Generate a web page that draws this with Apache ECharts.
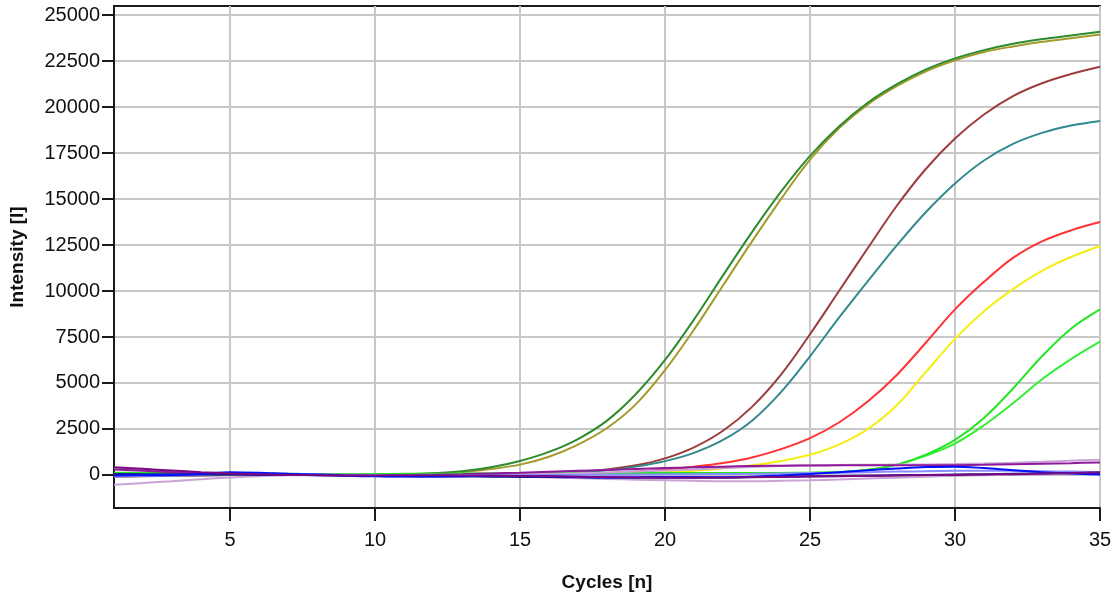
<!DOCTYPE html>
<html>
<head>
<meta charset="utf-8">
<title>Amplification curves</title>
<script src="https://cdn.jsdelivr.net/npm/echarts@6/dist/echarts.min.js"></script>
<style>
  html, body { margin: 0; padding: 0; background: #fff; }
  #chart { width: 1116px; height: 604px; }
</style>
</head>
<body>
<div id="chart"></div>
<script>
// cycles 1..35
const cycles = [];
for (let c = 1; c <= 35; c++) cycles.push(c);

const xTicks = [5, 10, 15, 20, 25, 30, 35];
const yTicks = [0, 2500, 5000, 7500, 10000, 12500, 15000, 17500, 20000, 22500, 25000];

// amplification curves
const darkGreen = [100, 80, 60, 40, 20, 10, 0, 0, 10, 20, 40, 90, 200, 420, 760, 1250, 1950, 2950, 4400, 6250, 8450, 10850, 13200, 15400, 17350, 18950, 20250, 21250, 22050, 22650, 23100, 23450, 23700, 23900, 24100];
const olive = [60, 40, 30, 20, 10, 0, 0, 0, 10, 20, 30, 70, 150, 320, 560, 990, 1650, 2550, 3850, 5700, 7900, 10300, 12700, 15000, 17150, 18850, 20150, 21150, 21950, 22550, 23000, 23300, 23550, 23750, 23950];
const brown = [-100, -80, -50, -30, 0, 0, 0, 0, 0, 0, 0, 10, 20, 40, 70, 110, 180, 300, 520, 900, 1500, 2400, 3700, 5450, 7650, 10000, 12350, 14650, 16650, 18300, 19600, 20600, 21300, 21800, 22200];
const teal = [-50, -40, -30, -20, -10, 0, 0, 0, 0, 0, 0, 0, 10, 20, 30, 60, 130, 250, 450, 750, 1200, 1900, 2950, 4500, 6450, 8550, 10550, 12500, 14300, 15850, 17100, 18000, 18600, 19000, 19250];
const red = [0, 0, 0, 0, 0, 0, 0, 0, 0, 0, 0, 0, 0, 10, 20, 30, 60, 100, 180, 300, 450, 650, 950, 1400, 2000, 2850, 4000, 5450, 7200, 9000, 10500, 11800, 12700, 13300, 13750];
const yellow = [0, 0, 0, 0, 0, 0, 0, 0, 0, 0, 0, 0, 0, 0, 10, 20, 40, 60, 100, 150, 230, 350, 520, 760, 1100, 1650, 2500, 3800, 5600, 7400, 8900, 10100, 11100, 11850, 12450];
const limeA = [120, 110, 100, 90, 80, 70, 60, 50, 50, 50, 60, 60, 70, 70, 80, 80, 90, 90, 100, 100, 100, 100, 110, 110, 120, 150, 280, 560, 1100, 1900, 3100, 4700, 6450, 7950, 9000];
const limeB = [110, 100, 90, 80, 70, 60, 50, 50, 40, 40, 50, 50, 60, 60, 70, 70, 80, 80, 90, 90, 90, 90, 100, 100, 110, 150, 280, 560, 1050, 1700, 2700, 3900, 5200, 6300, 7250];

// baseline samples
const purpleA = [420, 330, 240, 150, 80, 30, 0, -20, -30, -30, -20, -20, -30, -40, -60, -80, -100, -120, -140, -150, -160, -150, -130, -110, -90, -70, -50, -30, -10, 0, 20, 40, 70, 100, 140];
const purpleB = [300, 220, 150, 90, 40, 10, 0, 0, 0, 0, 0, 10, 40, 80, 120, 170, 220, 270, 320, 370, 410, 450, 480, 500, 510, 520, 520, 520, 520, 530, 550, 580, 610, 640, 680];
const lavenderA = [350, 280, 200, 120, 60, 20, 0, 0, 0, 0, 0, 0, 10, 20, 40, 60, 90, 130, 180, 240, 300, 370, 430, 480, 520, 540, 550, 560, 570, 590, 620, 660, 710, 770, 830];
const lavenderB = [-530, -440, -340, -230, -140, -70, -20, 0, 10, 0, -10, -20, -40, -70, -100, -140, -180, -220, -260, -290, -320, -340, -340, -320, -290, -250, -200, -150, -100, -60, -20, 0, 20, 40, 60];
const blue = [-30, -20, 0, 50, 150, 120, 60, 20, -40, -80, -90, -90, -70, -50, -60, -80, -110, -140, -130, -110, -120, -130, -100, -30, 50, 150, 250, 350, 430, 450, 370, 250, 150, 80, 20];
const navy = [50, 40, 30, 20, 10, 0, 0, -20, -40, -60, -80, -90, -90, -100, -110, -120, -130, -140, -150, -150, -150, -140, -120, -100, -80, -60, -40, -20, 0, 20, 40, 60, 80, 100, 120];
const lightBlue = [-100, -60, -30, 0, 40, 80, 60, 30, 0, 0, 0, -10, -20, -30, -20, -10, 0, 10, 20, 30, 40, 50, 60, 80, 100, 120, 150, 180, 200, 220, 230, 220, 200, 180, 150];

const FONT = "'Liberation Sans', Arial, sans-serif";

function line(name, values, color) {
  return {
    name: name,
    type: "line",
    data: values.map((v, i) => [cycles[i], v]),
    smooth: 0.35,
    showSymbol: false,
    lineStyle: { color: color, width: 2 },
    itemStyle: { color: color },
    animation: false
  };
}

const chart = echarts.init(document.getElementById("chart"));

const option = {
  backgroundColor: "#fff",
  grid: {
    left: 114,
    right: 16,
    top: 6,
    bottom: 96,
    show: true,
    borderColor: "#1a1a1a",
    borderWidth: 2,
    outerBoundsMode: "none"
  },
  xAxis: {
    type: "value",
    min: 1,
    max: 35,
    name: "Cycles [n]",
    nameLocation: "middle",
    nameGap: 65,
    nameTextStyle: { fontFamily: FONT, fontSize: 19, fontWeight: "bold", color: "#111" },
    axisLine: { onZero: false, lineStyle: { color: "#1a1a1a", width: 2 } },
    axisTick: { customValues: xTicks, length: 13, lineStyle: { color: "#1a1a1a", width: 2 } },
    axisLabel: {
      customValues: xTicks, margin: 22, fontFamily: FONT, fontSize: 20, color: "#111",
      formatter: v => String(v)
    },
    splitLine: { show: true, lineStyle: { color: "#c8c8c8", width: 2 } }
  },
  yAxis: {
    type: "value",
    min: -1800,
    max: 25500,
    name: "Intensity [I]",
    nameLocation: "middle",
    nameRotate: 90,
    nameGap: 87,
    nameTextStyle: { fontFamily: FONT, fontSize: 19, fontWeight: "bold", color: "#111" },
    axisLine: { lineStyle: { color: "#1a1a1a", width: 2 } },
    axisTick: { customValues: yTicks, length: 12, lineStyle: { color: "#1a1a1a", width: 2 } },
    axisLabel: {
      customValues: yTicks, margin: 14, fontFamily: FONT, fontSize: 20, color: "#111",
      formatter: v => String(v)
    },
    splitLine: { show: true, lineStyle: { color: "#c8c8c8", width: 2 } }
  },
  series: [
    line("olive", olive, "#a39a2c"),
    line("darkGreen", darkGreen, "#2e8b2e"),
    line("brown", brown, "#9c3c3c"),
    line("teal", teal, "#33898f"),
    line("red", red, "#ff3333"),
    line("yellow", yellow, "#f5ee10"),
    line("limeB", limeB, "#33ee33"),
    line("limeA", limeA, "#22e622"),
    line("lavenderA", lavenderA, "#c9a3d6"),
    line("lavenderB", lavenderB, "#c9a3d6"),
    line("purpleB", purpleB, "#8e1a9a"),
    line("lightBlue", lightBlue, "#8a8cff"),
    line("navy", navy, "#1a1a9a"),
    line("blue", blue, "#0010ff"),
    line("purpleA", purpleA, "#7a0a80")
  ]
};

chart.setOption(option);
</script>
</body>
</html>
